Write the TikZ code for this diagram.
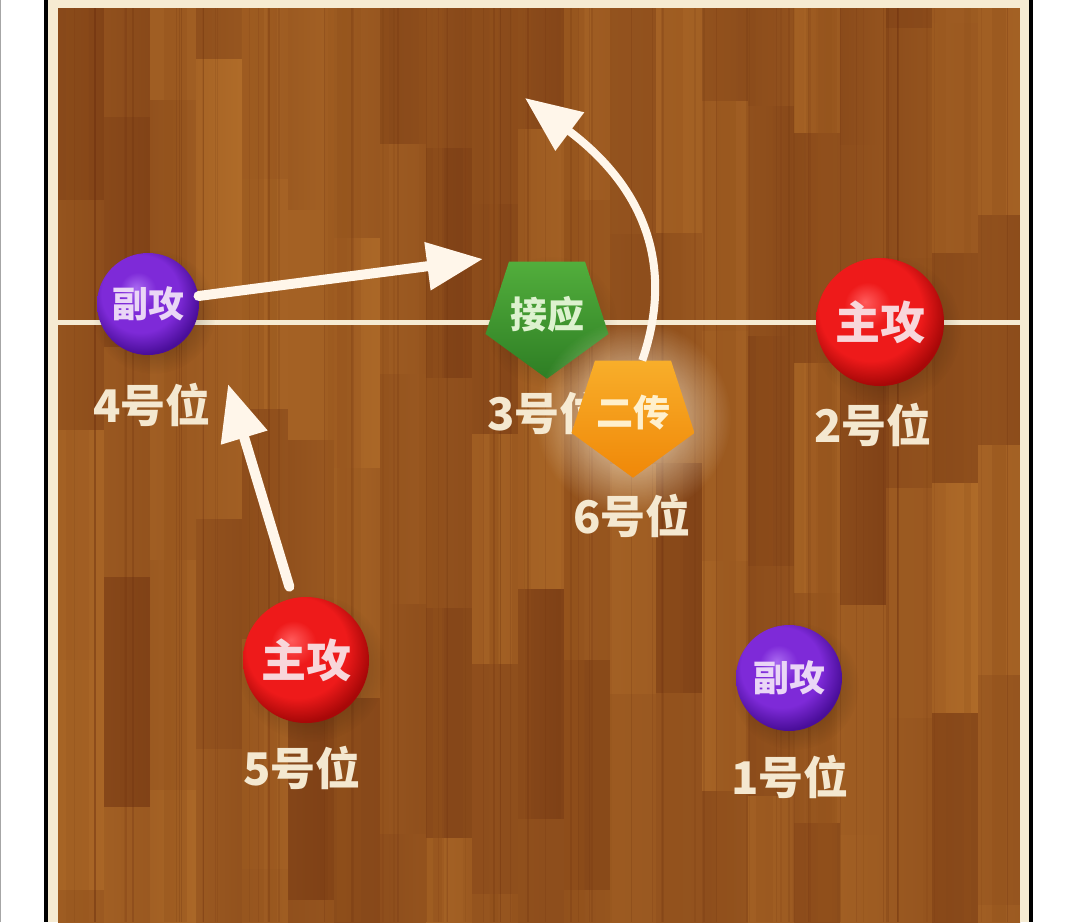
\documentclass[tikz,border=0pt]{standalone}
\usepackage{fontspec}
\newfontfamily\cjk{Noto Sans CJK SC}
\usetikzlibrary{arrows.meta,shapes.geometric,fadings}
\definecolor{wooddark}{HTML}{6A2E0E}
\definecolor{woodlight}{HTML}{C27C30}
\definecolor{woodmid}{HTML}{93521C}
\definecolor{linecream}{HTML}{F6EBD2}
\definecolor{labelcream}{HTML}{F4E8D0}
\definecolor{arrowwhite}{HTML}{FFF6EA}
\definecolor{redhi}{HTML}{FF5A5A}
\definecolor{redmain}{HTML}{EE1A1A}
\definecolor{reddark}{HTML}{A80808}
\definecolor{redtext}{HTML}{F8D6DA}
\definecolor{purphi}{HTML}{A868F0}
\definecolor{purpmain}{HTML}{7E2AD8}
\definecolor{purpdark}{HTML}{4A0E9A}
\definecolor{purptext}{HTML}{EAD6F6}
\definecolor{greentop}{HTML}{52AE3C}
\definecolor{greenbot}{HTML}{2E7E24}
\definecolor{greentext}{HTML}{DDF2CF}
\definecolor{orangetop}{HTML}{F8AE2A}
\definecolor{orangebot}{HTML}{F08808}
\definecolor{orangetext}{HTML}{FFF0CC}
\definecolor{glowcol}{HTML}{FFF4DC}
\pgfdeclareradialshading{redballshade}{\pgfpoint{-6bp}{8bp}}{color(0bp)=(redhi); color(9bp)=(redmain); color(20bp)=(redmain); color(28bp)=(reddark); color(50bp)=(reddark)}
\pgfdeclareradialshading{purpballshade}{\pgfpoint{-6bp}{8bp}}{color(0bp)=(purphi); color(9bp)=(purpmain); color(19bp)=(purpmain); color(28bp)=(purpdark); color(50bp)=(purpdark)}
\tikzfading[name=softfade, inner color=transparent!0, outer color=transparent!100]
\tikzset{
  ball/.style={circle, inner sep=0pt, shade},
  redball/.style={ball, shading=redballshade, text=redtext, font=\cjk\bfseries\fontsize{45}{45}\selectfont},
  purpball/.style={ball, shading=purpballshade, text=purptext, font=\cjk\bfseries\fontsize{36}{36}\selectfont},
  pent/.style={regular polygon, regular polygon sides=5, shape border rotate=180, inner sep=0pt, font=\cjk\bfseries\fontsize{37}{37}\selectfont},
  greenpent/.style={pent, top color=greentop, bottom color=greenbot, text=greentext},
  orangepent/.style={pent, top color=orangetop, bottom color=orangebot, text=orangetext},
  poslabel/.style={text=labelcream, font=\cjk\bfseries\fontsize{45}{45}\selectfont, inner sep=0pt},
  movearrow/.style={draw=arrowwhite, line width=10pt, line cap=round, -{Triangle[width=46pt,length=56pt]}},
  softshadow/.style={fill=black, fill opacity=0.45, path fading=softfade}
}
\begin{document}
\begin{tikzpicture}[x=1pt,y=-1pt]
\useasboundingbox (0,0) rectangle (1080,922);
\fill[white] (0,0) rectangle (1080,922);
\draw[gray!70, line width=1.2pt] (0.6,0) -- (0.6,922);
% wood floor
\begin{scope}
\clip (58,8) rectangle (1020,922);
\fill[woodmid] (58,0) rectangle (1020,922);
\pgfmathsetseed{7}
\foreach \i in {0,...,20}{
  \pgfmathsetmacro{\xa}{58+\i*46}
  \pgfmathsetmacro{\off}{rnd*230}
  \foreach \k in {0,...,5}{
    \pgfmathsetmacro{\pa}{30+rnd*40}
    \pgfmathsetmacro{\pb}{\pa+rnd*24-12}
    \pgfmathsetmacro{\ya}{\off+(\k-1)*230}
    \shade[left color=woodlight!\pa!wooddark, right color=woodlight!\pb!wooddark] (\xa,\ya) rectangle ++(46,230);
  }
}
\foreach \j in {1,...,30}{
  \pgfmathsetmacro{\gx}{58+rnd*962}
  \pgfmathsetmacro{\go}{0.15+rnd*0.25}
  \pgfmathsetmacro{\gw}{6+rnd*20}
  \fill[woodmid, opacity=\go] (\gx,0) rectangle ++(\gw,922);
}
\foreach \j in {1,...,70}{
  \pgfmathsetmacro{\gx}{58+rnd*962}
  \pgfmathsetmacro{\go}{0.08+rnd*0.18}
  \draw[wooddark, opacity=\go, line width=1.5pt] (\gx,0) -- (\gx,922);
}
\end{scope}
% court borders
\fill[black] (44,0) rectangle (48,922);
\fill[linecream] (48,0) rectangle (58,922);
\fill[linecream] (1020,0) rectangle (1029,922);
\fill[black] (1029,0) rectangle (1033,922);
\fill[linecream] (48,0) rectangle (1029,8);
% centre line
\draw[linecream, line width=5pt] (58,322) -- (1020,322);
% position labels
\node[poslabel] (l4) at (152,405) {4号位};
\node[poslabel, anchor=west] (l3) at (487,413) {3号位};
\node[poslabel] (l2) at (873,425) {2号位};
\node[poslabel] (l6) at (632,516) {6号位};
\node[poslabel] (l5) at (302,768) {5号位};
\node[poslabel] (l1) at (790,777) {1号位};
% shadows
\fill[softshadow] (154,312) circle (62);
\fill[softshadow] (886,330) circle (75);
\fill[softshadow] (312,668) circle (74);
\fill[softshadow] (795,686) circle (64);
\fill[softshadow, fill opacity=0.3] (551,322) circle (66);
% players
\node[purpball, minimum size=102pt] (fu4) at (148,304) {副攻};
\node[redball, minimum size=128pt] (zhu2) at (880,322) {主攻};
\node[redball, minimum size=126pt] (zhu5) at (306,660) {主攻};
\node[purpball, minimum size=106pt] (fu1) at (789,678) {副攻};
\node[greenpent, minimum size=116pt] (jie) at (547,314) {接应};
\fill[glowcol, fill opacity=0.9, path fading=softfade] (633,418) circle (98);
\node[orangepent, minimum size=118pt] (er) at (633,413) {二传};
% arrows
\coordinate (t1) at (483,259);
\coordinate (t2) at (228,384);
\coordinate (t3) at (525,98);
\draw[movearrow] (fu4.9) -- (t1);
\draw[movearrow, shorten <=12pt] (zhu5.102) -- (t2);
\draw[movearrow, line width=8pt, line cap=butt] (er.80) .. controls (680,250) and (629,176) .. (t3);
\end{tikzpicture}
\end{document}
